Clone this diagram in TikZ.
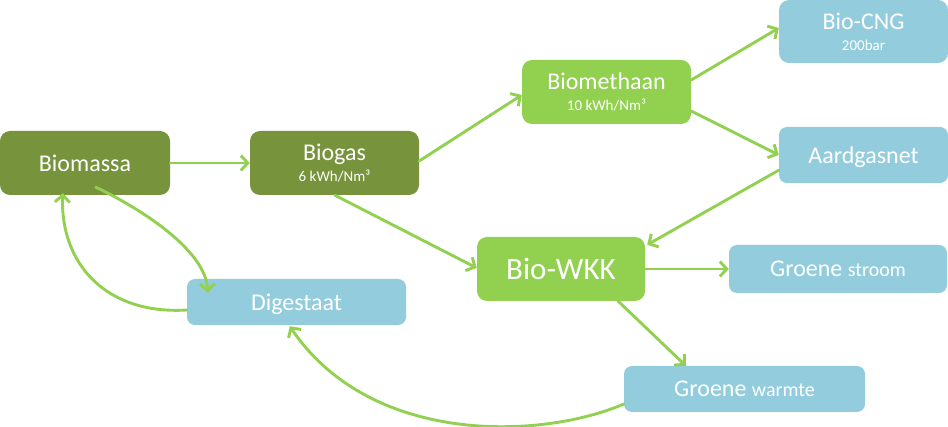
\documentclass[tikz,border=0pt]{standalone}
\usepackage{fontspec}
\setmainfont{Carlito}
\usetikzlibrary{arrows.meta,calc}
\definecolor{dkgreen}{HTML}{77933C}
\definecolor{ltgreen}{HTML}{92D050}
\definecolor{ltblue}{HTML}{93CDDD}
\definecolor{arrowgreen}{HTML}{92D050}
\newcommand{\subtxt}[1]{{\fontsize{15}{21}\selectfont #1}}
\newcommand{\midtxt}[1]{{\fontsize{20}{21}\selectfont #1}}
\tikzset{
  box/.style={fill=#1, draw=none, rounded corners=10pt, text=white, inner sep=0pt,
    align=center, text depth=0pt, font=\fontsize{24}{21}\selectfont},
  flow/.style={draw=arrowgreen, line width=2.9pt, line cap=round,
    -{Straight Barb[length=7pt,width=15pt]}},
}
\begin{document}
\begin{tikzpicture}[x=1pt,y=-1pt]
\useasboundingbox (0,0) rectangle (948,427);
% boxes
\node[box=dkgreen, minimum width=170pt, minimum height=64pt] (biomassa) at (85,163) {Biomassa};
\node[box=dkgreen, minimum width=169pt, minimum height=64pt] (biogas) at (334.5,163) {Biogas\\\subtxt{6 kWh/Nm³}};
\node[box=ltgreen, minimum width=169pt, minimum height=64pt] (biomethaan) at (606.5,92) {Biomethaan\\\subtxt{10 kWh/Nm³}};
\node[box=ltblue, minimum width=169pt, minimum height=63pt] (biocng) at (863.5,31.5) {Bio-CNG\\\subtxt{200bar}};
\node[box=ltblue, rounded corners=8pt, minimum width=169pt, minimum height=56pt] (aardgas) at (863.5,155) {Aardgasnet};
\node[box=ltgreen, minimum width=168pt, minimum height=64pt, font=\fontsize{31}{31}\selectfont] (biowkk) at (561,269) {Bio-WKK};
\node[box=ltblue, rounded corners=8pt, minimum width=218pt, minimum height=48pt] (stroom) at (838,269) {Groene \midtxt{stroom}};
\node[box=ltblue, rounded corners=8pt, minimum width=241pt, minimum height=46pt] (warmte) at (744.5,389) {Groene \midtxt{warmte}};
\node[box=ltblue, rounded corners=8pt, minimum width=219pt, minimum height=46pt] (digestaat) at (296.5,302) {Digestaat};
% connectors
\draw[flow] (biomassa.east) -- (biogas.west);
\draw[flow] ($(biogas.east)+(0,-2)$) -- ($(biomethaan.west)+(0,3)$);
\draw[flow] ($(biomethaan.east)+(0,-12)$) -- ($(biocng.west)+(0,-3.5)$);
\draw[flow] ($(biomethaan.east)+(0,19)$) -- (aardgas.west);
\draw[flow] ($(aardgas.south west)+(0,-13)$) -- ($(biowkk.north east)+(2,8)$);
\draw[flow] ($(biogas.south west)+(85,0)$) -- ($(biowkk.west)+(0,-1)$);
\draw[flow] (biowkk.east) -- (stroom.west);
\draw[flow] ($(biowkk.south east)+(-27,0)$) -- ($(warmte.north west)+(62,0)$);
\draw[flow] ($(biomassa.south west)+(96,-8)$) .. controls +(44,21) and +(-2,-43) .. ($(digestaat.north west)+(21,14)$);
\draw[flow] ($(digestaat.west)+(0,8)$) .. controls +(-82,5) and +(-3,69) .. ($(biomassa.south west)+(63,-2)$);
\draw[flow] ($(warmte.west)+(0,15)$) .. controls +(-84,36) and +(80,119) .. ($(digestaat.south west)+(103,1)$);
\end{tikzpicture}
\end{document}
